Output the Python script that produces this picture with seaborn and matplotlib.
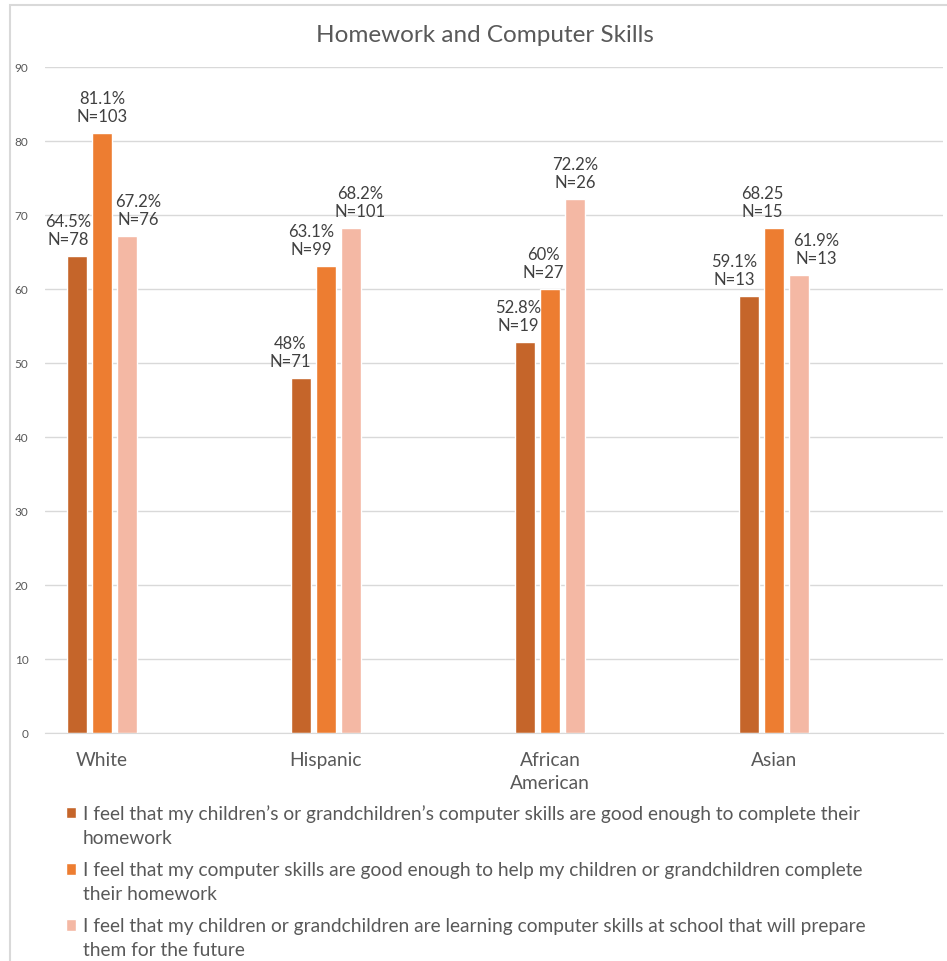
# Homework and Computer Skills - grouped bar chart

import pandas as pd
import matplotlib.pyplot as plt
from matplotlib.patches import Rectangle
import seaborn as sns
sns.set_style("white")
plt.rcParams['font.family'] = ['Lato', 'DejaVu Sans']

# Data
groups = ['White', 'Hispanic', 'African\nAmerican', 'Asian']
series_names = [
    'I feel that my children’s or grandchildren’s computer skills are good enough to complete their\nhomework',
    'I feel that my computer skills are good enough to help my children or grandchildren complete\ntheir homework',
    'I feel that my children or grandchildren are learning computer skills at school that will prepare\nthem for the future',
]
child_skills = [64.5, 48, 52.8, 59.1]
own_skills = [81.1, 63.1, 60, 68.25]
school_skills = [67.2, 68.2, 72.2, 61.9]
child_labels = ['64.5%', '48%', '52.8%', '59.1%']
own_labels = ['81.1%', '63.1%', '60%', '68.25']
school_labels = ['67.2%', '68.2%', '72.2%', '61.9%']
child_n = [78, 71, 19, 13]
own_n = [103, 99, 27, 15]
school_n = [76, 101, 26, 13]

# Plotting parameters
colors = ['#C5652A', '#ED7D31', '#F4B8A4']
text_color = '#595959'
grid_color = '#D9D9D9'
legend_font = 13.8
# horizontal nudges of the data labels (pixels), like Excel's auto placement
label_nudge = [[-9, -11, -7, -15], [0, -15, -7, -12], [11, 9, 0, 17]]

df = pd.concat([
    pd.DataFrame({'group': groups, 'series': series_names[0], 'value': child_skills}),
    pd.DataFrame({'group': groups, 'series': series_names[1], 'value': own_skills}),
    pd.DataFrame({'group': groups, 'series': series_names[2], 'value': school_skills}),
])

fig = plt.figure(figsize=(9.47, 9.62), dpi=100)
ax = fig.add_axes([45/947, 1 - 734/962, 898/947, 666/962])

sns.barplot(data=df, x='group', y='value', hue='series', order=groups,
            hue_order=series_names, palette=colors, width=0.335, gap=0.2,
            saturation=1, ax=ax, legend=True)

ax.set_ylim(0, 90)
ax.set_yticks(range(0, 91, 10))
ax.set_xlim(-0.254, 3.754)
ax.set_xlabel('')
ax.set_ylabel('')
ax.yaxis.grid(True, color=grid_color, linewidth=1)
ax.set_axisbelow(True)
for s in ['top', 'right', 'left']:
    ax.spines[s].set_visible(False)
ax.spines['bottom'].set_color(grid_color)
ax.tick_params(axis='y', length=0, pad=12, labelsize=8.5, labelcolor=text_color)
ax.tick_params(axis='x', length=0, pad=13, labelsize=13.8, labelcolor=text_color)
for t in ax.get_xticklabels():
    t.set_linespacing(1.45)

# Data labels
all_labels = [child_labels, own_labels, school_labels]
all_n = [child_n, own_n, school_n]
for k, cont in enumerate(ax.containers):
    for j, bar in enumerate(cont):
        ax.annotate('{}\nN={}'.format(all_labels[k][j], all_n[k][j]),
                    (bar.get_x() + bar.get_width() / 2, bar.get_height()),
                    xytext=(label_nudge[k][j], 9), textcoords='offset pixels',
                    ha='center', va='bottom', fontsize=12, color='#404040',
                    linespacing=1.15)

# Title
fig.text(0.512, 1 - 35/962, 'Homework and Computer Skills', ha='center', va='center',
         fontsize=17.5, color=text_color)

# Legend below the chart
handles, labels = ax.get_legend_handles_labels()
ax.get_legend().remove()
leg = fig.legend(handles, labels, loc='upper left', bbox_to_anchor=(58/947, 1 - 797/962),
                 frameon=False, fontsize=legend_font, labelcolor=text_color, handlelength=0.55,
                 handleheight=0.55, handletextpad=0.35, labelspacing=0.75, borderaxespad=0)
for t in leg.get_texts():
    t.set_linespacing(1.55)
# put the colour squares on the first line of each entry
for h in leg.legend_handles:
    h.set_y(h.get_y() + legend_font * 0.65)

# Chart border
fig.add_artist(Rectangle((10/947, -0.1), 1.2, 1.1 - 6/962, transform=fig.transFigure,
                         fill=False, edgecolor=grid_color, linewidth=1.5))

fig.savefig('out.png', dpi=100)
